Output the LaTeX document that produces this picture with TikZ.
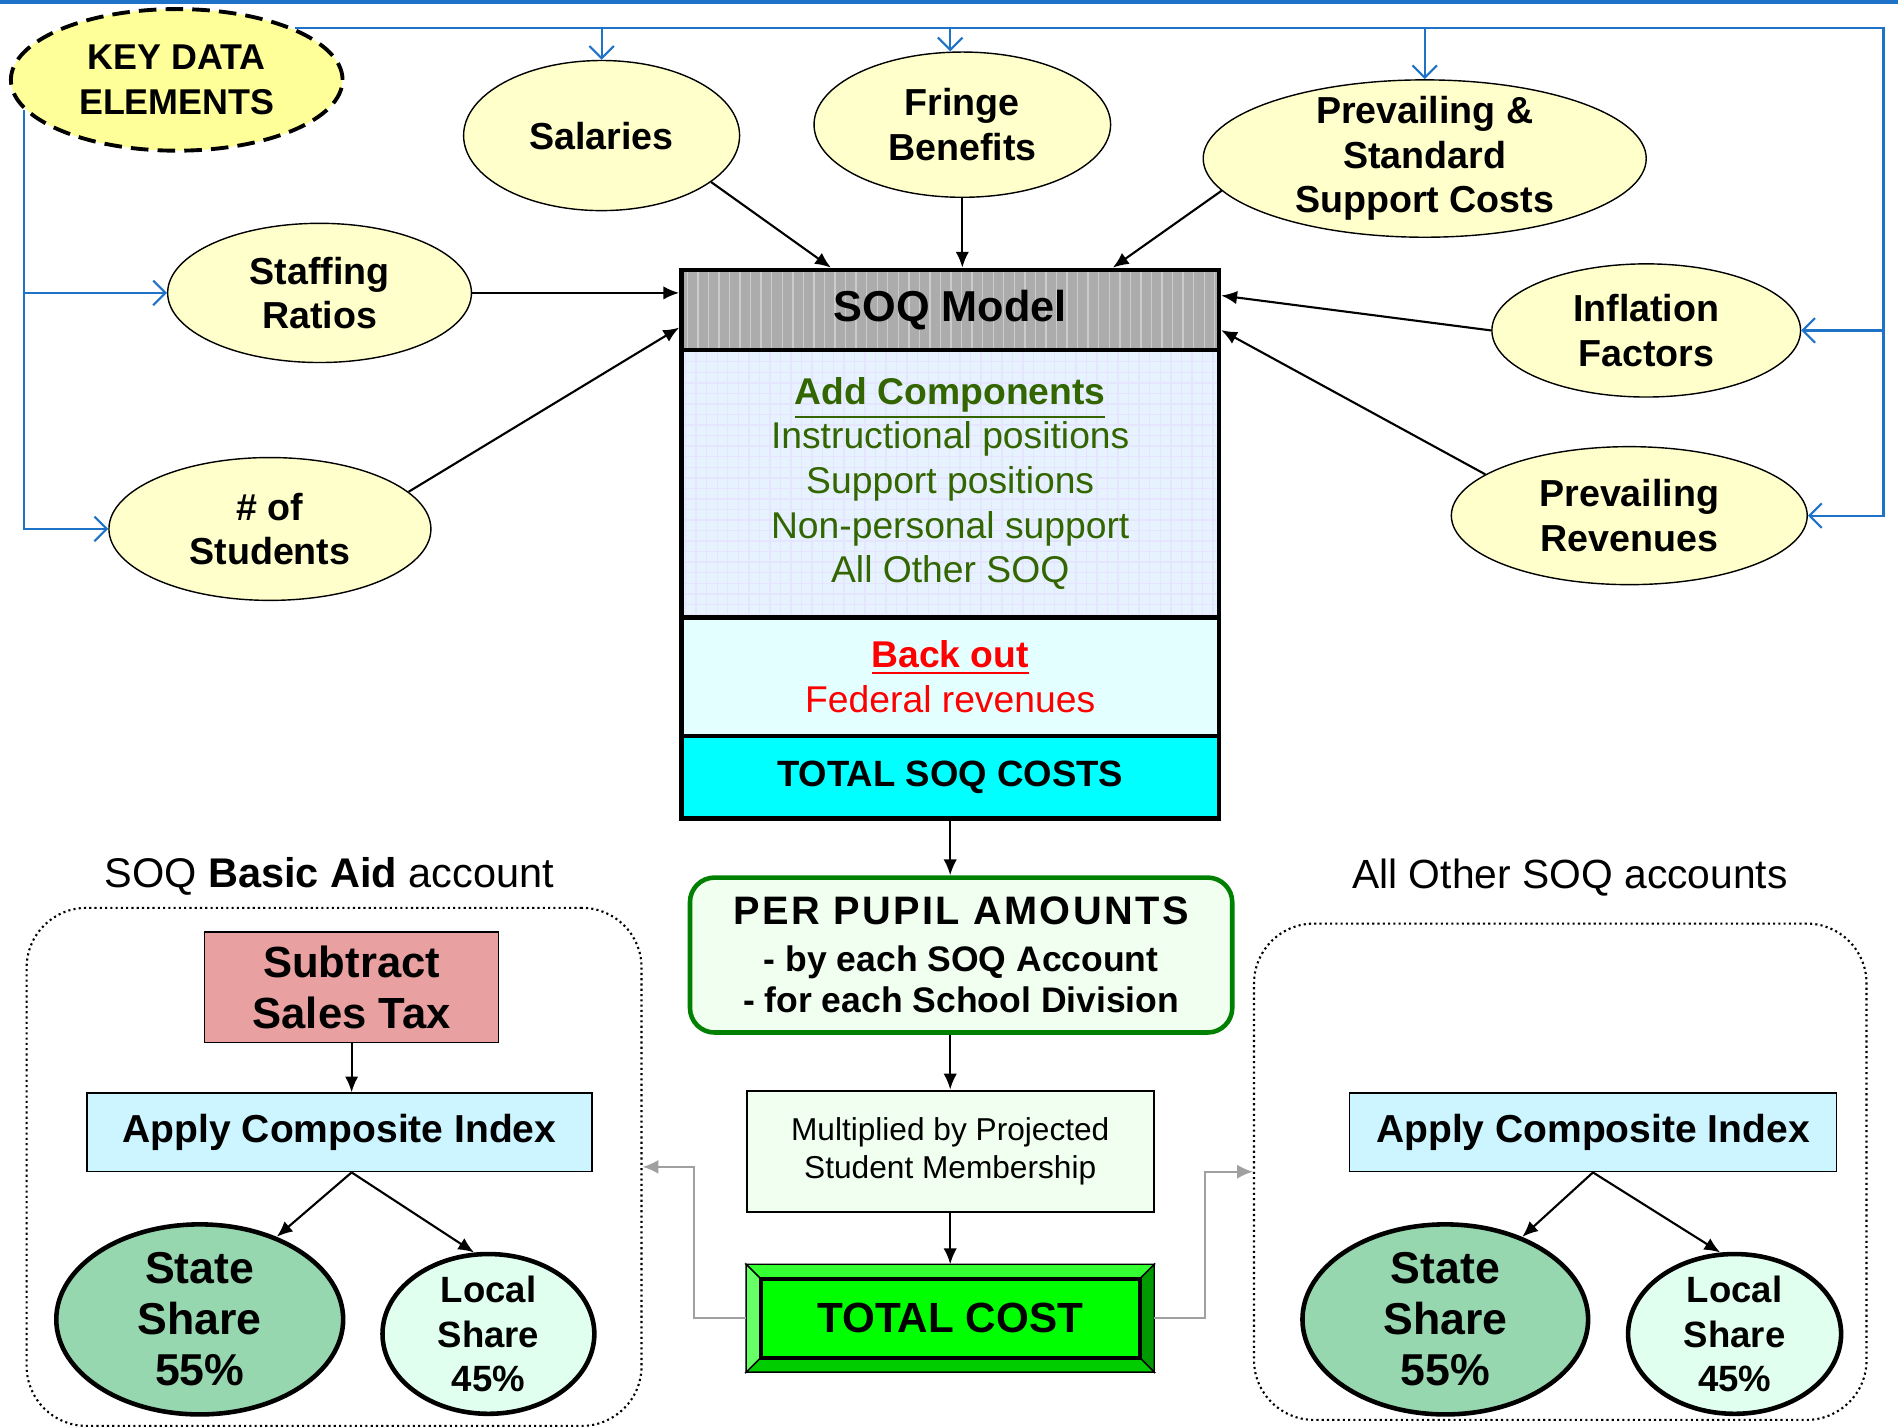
\documentclass[tikz,border=0pt]{standalone}
\usepackage{fontspec}
\setmainfont{Liberation Sans}
\usetikzlibrary{shapes.geometric,arrows.meta,patterns,calc}
\newlength\px
\setlength\px{0.012105cm}
\newcommand\fsz[2]{\fontsize{#1}{#2}\selectfont}
\definecolor{busblue}{RGB}{30,115,200}
\definecolor{datafill}{RGB}{255,255,204}
\definecolor{keyfill}{RGB}{255,255,153}
\definecolor{compgreen}{RGB}{51,102,0}
\definecolor{compfill}{RGB}{230,243,255}
\definecolor{backfill}{RGB}{228,255,255}
\definecolor{totalcyan}{RGB}{0,255,255}
\definecolor{pupilfill}{RGB}{240,255,240}
\definecolor{pupilline}{RGB}{0,128,0}
\definecolor{taxfill}{RGB}{232,160,160}
\definecolor{indexfill}{RGB}{204,245,255}
\definecolor{statefill}{RGB}{150,215,175}
\definecolor{localfill}{RGB}{224,255,238}
\definecolor{linkgray}{RGB}{160,160,160}
\definecolor{costgreen}{RGB}{0,255,0}
\definecolor{bevelT}{RGB}{51,255,51}
\definecolor{bevelL}{RGB}{102,255,102}
\definecolor{bevelR}{RGB}{0,153,0}
\definecolor{bevelB}{RGB}{0,204,0}

\begin{document}
\begin{tikzpicture}[x=0.012105cm, y=-0.012105cm,
      wh/.style 2 args = {minimum width=#1\px, minimum height=#2\px},
      data/.style = {ellipse, draw, fill=datafill, inner sep=-1cm, align=center,
        font=\bfseries\fsz{10.7}{12.7}},
      band/.style = {draw, line width=1.3pt, minimum width=444\px, align=center, inner sep=0pt},
      index/.style = {draw, fill=indexfill, inner sep=0pt, font=\bfseries\fsz{11.1}{13}},
      share/.style = {ellipse, draw, line width=1.3pt, inner sep=-1cm, align=center},
      account/.style = {draw, line width=.6pt, dash pattern=on .6pt off .9pt, rounded corners=17pt},
      feed/.style = {-{Latex[length=4.5pt,width=3.8pt]}, line width=.6pt},
      bus/.style = {busblue, line width=.6pt, -{Straight Barb[length=3.5pt,width=7pt]}},
      link/.style = {linkgray, line width=.6pt, -{Latex[length=4.5pt,width=4pt]}}]
  \useasboundingbox (0,0) rectangle (1568,1179);
  \draw[busblue, line width=1.1pt] (0,2) -- (1568,2);

  % key data elements
  \node[data, wh={274}{117}, fill=keyfill, line width=1.1pt, dash pattern=on 5pt off 2.6pt,
        font=\bfseries\fsz{10.2}{12.7}] (key) at (146,66) {KEY DATA\\ELEMENTS};
  \node[data, wh={228}{124}] (sal) at (497,112) {Salaries};
  \node[data, wh={245}{120}] (fringe) at (795,103) {Fringe\\Benefits};
  \node[data, wh={366}{130}] (pssc) at (1177,131) {Prevailing \&\\Standard\\Support Costs};
  \node[data, wh={251}{115}] (staff) at (264,242) {Staffing\\Ratios};
  \node[data, wh={266}{118}] (stud) at (223,437) {\# of\\Students};
  \node[data, wh={255}{110}] (infl) at (1360,273) {Inflation\\Factors};
  \node[data, wh={294}{114}] (prev) at (1346,426) {Prevailing\\Revenues};

  % SOQ model
  \node[band, minimum height=66\px, preaction={fill=gray!65}, pattern=vertical lines,
        pattern color=gray!40, font=\bfseries\fsz{12.3}{14}] (soq) at (785,256) {SOQ Model};
  \node[band, minimum height=221\px, preaction={fill=compfill}, pattern=grid,
        pattern color=blue!10, text=compgreen, font=\fsz{10.6}{12.7}] (comp) at (785,399.5)
        {\textbf{\underline{Add Components}}\\Instructional positions\\Support positions\\Non-personal support\\All Other SOQ};
  \node[band, minimum height=98\px, fill=backfill, text=red, font=\fsz{10.6}{12.7}] (back) at (785,559)
        {\textbf{\underline{Back out}}\\Federal revenues};
  \node[band, minimum height=68\px, fill=totalcyan, font=\bfseries\fsz{10.4}{12}] (soqtotal) at (785,642) {TOTAL SOQ COSTS};

  \node[draw=pupilline, line width=1.3pt, rounded corners=7pt, fill=pupilfill, wh={448}{128},
        align=center, inner sep=0pt, font=\bfseries\fsz{10.1}{11.8}] (pupil) at (794,789)
        {{\fsz{11.3}{13}\addfontfeatures{LetterSpace=6}PER PUPIL AMOUNTS}\\[1.5pt]- by each SOQ Account\\- for each School Division};
  \node[draw, line width=.6pt, fill=pupilfill, wh={336}{100}, align=center, inner sep=0pt,
        font=\fsz{9}{10.7}] (mult) at (785,951) {Multiplied by Projected\\Student Membership};
  \node[draw, fill=costgreen, wh={336}{88}, font=\bfseries\fsz{12}{13}] (total) at (785,1089) {TOTAL COST};
  \path (total.north west) coordinate (t1) (total.north east) coordinate (t2)
        (total.south east) coordinate (t3) (total.south west) coordinate (t4);
  \path ([shift={(12,12)}]t1) coordinate (u1) ([shift={(-12,12)}]t2) coordinate (u2)
        ([shift={(-12,-12)}]t3) coordinate (u3) ([shift={(12,-12)}]t4) coordinate (u4);
  \filldraw[fill=bevelT] (t1) -- (t2) -- (u2) -- (u1) -- cycle;
  \filldraw[fill=bevelR] (t2) -- (t3) -- (u3) -- (u2) -- cycle;
  \filldraw[fill=bevelB] (t3) -- (t4) -- (u4) -- (u3) -- cycle;
  \filldraw[fill=bevelL] (t4) -- (t1) -- (u1) -- (u4) -- cycle;
  \draw[line width=1.2pt] (u1) rectangle (u3);

  % accounts
  \node[account, wh={508}{428}] (basic) at (276,964) {};
  \node[account, wh={506}{410}] (other) at (1289,968) {};
  \node[font=\fsz{11.8}{14}] (basiclbl) at (272,724) {SOQ \textbf{Basic Aid} account};
  \node[font=\fsz{11.6}{14}] (otherlbl) at (1297,725) {All Other SOQ accounts};

  \node[draw, fill=taxfill, wh={243}{91}, align=center, inner sep=0pt,
        font=\bfseries\fsz{12.4}{14.5}] (tax) at (290.5,815.5) {Subtract\\Sales Tax};
  \node[index, wh={417}{65}] (idxL) at (280.5,935.5) {Apply Composite Index};
  \node[index, wh={402}{65}] (idxR) at (1316,935.5) {Apply Composite Index};
  \node[share, fill=statefill, wh={237}{157}, font=\bfseries\fsz{12.7}{14.5}] (stateL) at (165,1090) {State\\Share\\55\%};
  \node[share, fill=localfill, wh={175}{132}, font=\bfseries\fsz{10.4}{12.7}] (localL) at (403.5,1102) {Local\\Share\\45\%};
  \node[share, fill=statefill, wh={236}{157}, font=\bfseries\fsz{12.7}{14.5}] (stateR) at (1194,1090) {State\\Share\\55\%};
  \node[share, fill=localfill, wh={176}{132}, font=\bfseries\fsz{10.4}{12.7}] (localR) at (1433,1102) {Local\\Share\\45\%};

  % blue feed lines
  \coordinate (rbus) at (1556,0);
  \draw[bus] (key.north east) -- (key.north east -| rbus) |- (prev.east);
  \draw[bus] (rbus |- infl.east) -- (infl.east);
  \draw[bus] (key.north east -| sal.north) -- (sal.north);
  \draw[bus] (key.north east -| fringe.north) ++(-10,0) -- ([xshift=-10\px]fringe.north);
  \draw[bus] (key.north east -| pssc.north) -- (pssc.north);
  \draw[bus] (key.191) |- (stud.west);
  \draw[bus] (key.191 |- staff.west) -- (staff.west);

  % into the model
  \draw[feed] (sal.337) -- ($(soq.north west)!.28!(soq.north east)$);
  \draw[feed] (fringe.south) -- (fringe.south |- soq.north);
  \draw[feed] (pssc.189) -- ($(soq.north west)!.80!(soq.north east)$);
  \draw[feed] (staff.east) -- (staff.east -| soq.west);
  \draw[feed] (stud.15) -- ($(soq.north west)!.71!(soq.south west)$);
  \draw[feed] (infl.west) -- ($(soq.north east)!.33!(soq.south east)$);
  \draw[feed] (prev.164) -- ($(soq.north east)!.74!(soq.south east)$);

  \draw[feed] (soqtotal.south) -- (soqtotal.south |- pupil.north);
  \draw[feed] (mult.north |- pupil.south) -- (mult.north);
  \draw[feed] (mult) -- (total);
  \draw[link] (total.west) -- ++(-43,0) |- (basic.east);
  \draw[link] (total.east) -- ++(42,0) |- (other.west);

  \draw[feed] (tax.south) -- (tax.south |- idxL.north);
  \draw[feed] ([xshift=10\px]idxL.south) -- (stateL.47);
  \draw[feed] ([xshift=10\px]idxL.south) -- (localL.100);
  \draw[feed] (idxR.south) -- (stateR.47);
  \draw[feed] (idxR.south) -- (localR.100);
\end{tikzpicture}
\end{document}
